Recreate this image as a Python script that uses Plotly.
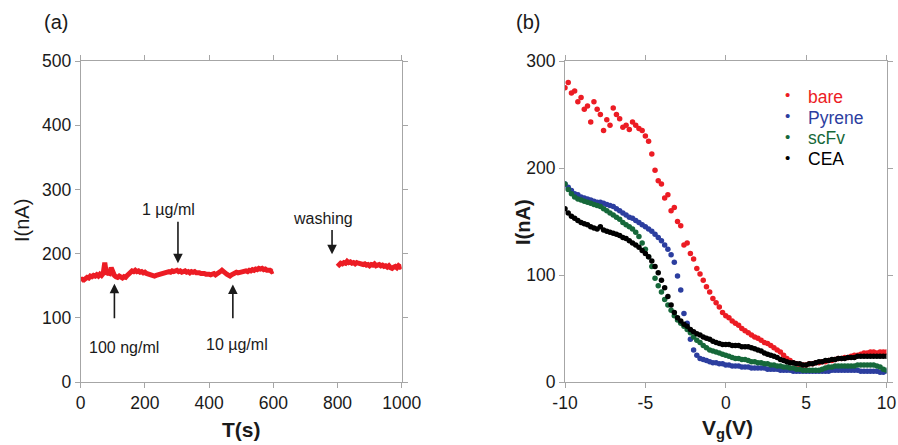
import numpy as np
import plotly.graph_objects as go

# ---- panel (a): current vs time ----
t_seg1 = np.arange(0, 601, 5)
i_seg1 = [158, 160, 159, 161, 163, 162, 165, 164, 166, 165,
          167, 165, 168, 166, 169, 186, 168, 170, 169, 178,
          170, 166, 164, 163, 165, 163, 162, 164, 163, 166,
          168, 171, 173, 172, 174, 172, 173, 171, 172, 170,
          171, 169, 168, 167, 168, 166, 165, 166, 167, 168,
          169, 170, 171, 170, 171, 172, 171, 173, 172, 173,
          174, 172, 173, 171, 172, 173, 171, 172, 170, 172,
          171, 172, 170, 171, 170, 169, 170, 169, 168, 169,
          168, 167, 168, 169, 167, 168, 170, 172, 174, 173,
          170, 168, 166, 165, 167, 169, 170, 171, 170, 171,
          172, 171, 172, 173, 172, 174, 173, 175, 174, 176,
          175, 177, 176, 177, 175, 176, 174, 175, 174, 172,
          173]
t_seg2 = np.arange(800, 1001, 5)
i_seg2 = [180, 183, 185, 184, 186, 185, 188, 186, 187, 185,
          186, 184, 186, 185, 184, 185, 183, 184, 182, 183,
          181, 183, 182, 184, 181, 182, 183, 181, 182, 180,
          181, 179, 181, 178, 177, 179, 180, 178, 181, 179,
          180]

# annotations: (label, text x, text y, arrow tail y, arrow head x, arrow head y)
notes = [
    ("1 µg/ml", 275, 269, 252, 303, 185),
    ("washing", 754, 255, 239, 783, 199),
    ("100 ng/ml", 135, 54, 97, 105, 153),
    ("10 µg/ml", 488, 59, 97, 474, 152),
]

# ---- panel (b): transfer curves ----
vg = np.linspace(-10, 10, 101)
vg_ticks = [-10, -5, 0, 5, 10]
vg_labels = ["-10", "-5", "0", "5", "10"]
bare = [275, 280, 270, 272, 262, 266, 255, 258, 243, 262,
        255, 250, 235, 245, 240, 256, 250, 246, 238, 240,
        236, 243, 240, 237, 235, 230, 225, 213, 198, 188,
        185, 172, 175, 160, 163, 150, 146, 128, 130, 120,
        115, 106, 101, 95, 89, 84, 78, 74, 70, 65,
        62, 60, 57, 55, 53, 50, 48, 46, 44, 42,
        41, 39, 37, 36, 34, 32, 30, 28, 25, 22,
        20, 18, 17, 16, 16, 16, 17, 17, 18, 18,
        19, 19, 20, 20, 21, 22, 22, 23, 23, 24,
        25, 25, 26, 27, 27, 28, 28, 27, 28, 28,
        28]
pyrene = [185, 182, 179, 176, 175, 173, 172, 171, 170, 169,
          168, 168, 167, 166, 165, 164, 162, 160, 158, 156,
          154, 153, 151, 149, 147, 145, 143, 141, 138, 135,
          132, 128, 124, 119, 112, 99, 86, 64, 55, 40,
          30, 25, 22, 21, 20, 19, 18, 18, 17, 17,
          16, 16, 15, 15, 15, 14, 14, 14, 13, 13,
          13, 13, 13, 12, 12, 12, 12, 11, 11, 11,
          11, 10, 10, 10, 10, 10, 10, 10, 10, 10,
          10, 10, 10, 11, 11, 11, 11, 11, 11, 11,
          11, 11, 10, 10, 10, 10, 10, 10, 9, 9,
          10]
scfv = [185, 180, 176, 173, 171, 170, 169, 168, 167, 166,
        165, 164, 162, 160, 158, 156, 154, 152, 149, 147,
        145, 143, 140, 136, 130, 124, 117, 108, 97, 90,
        84, 77, 72, 67, 62, 58, 55, 52, 49, 46,
        42, 39, 37, 34, 32, 30, 29, 28, 27, 26,
        25, 24, 23, 22, 22, 21, 21, 20, 19, 19,
        18, 18, 17, 17, 16, 16, 15, 15, 14, 14,
        13, 13, 12, 12, 11, 11, 11, 11, 11, 11,
        12, 13, 14, 14, 15, 15, 15, 15, 15, 15,
        15, 16, 16, 16, 16, 16, 16, 15, 14, 12,
        11]
cea = [162, 158, 155, 153, 151, 149, 148, 147, 145, 144,
       143, 145, 142, 141, 140, 139, 138, 137, 135, 134,
       132, 130, 128, 126, 123, 120, 117, 113, 108, 102,
       95, 88, 80, 72, 65, 60, 57, 54, 52, 49,
       47, 45, 44, 42, 41, 40, 38, 37, 36, 35,
       35, 35, 34, 34, 34, 33, 33, 33, 32, 31,
       30, 29, 27, 26, 25, 24, 23, 21, 20, 19,
       18, 18, 17, 17, 16, 16, 17, 17, 18, 19,
       19, 20, 20, 21, 21, 22, 22, 22, 23, 23,
       23, 24, 24, 24, 24, 24, 24, 24, 24, 24,
       24]

series = [("bare", bare, "#ec1c24"), ("Pyrene", pyrene, "#2c3e9f"),
          ("scFv", scfv, "#16683a"), ("CEA", cea, "#000000")]

FONT = "Liberation Sans, Arial, sans-serif"
INK = "#1a1a1a"
W, H = 898, 445


def px(x, y):
    # pixel position -> paper coords
    return x / W, 1 - y / H


fig = go.Figure()

for t, i in [(t_seg1, i_seg1), (t_seg2, i_seg2)]:
    fig.add_trace(go.Scatter(x=t, y=i, mode="lines", line=dict(color="#ec1c24", width=5),
                             showlegend=False, xaxis="x", yaxis="y"))

for name, vals, col in series:
    fig.add_trace(go.Scatter(
        x=vg, y=vals, mode="markers",
        marker=dict(color=col, size=5.5),
        name=name, showlegend=False,
        xaxis="x2", yaxis="y2",
    ))

axis_style = dict(
    showline=True, linecolor="#a6a6a6", linewidth=1, mirror="ticks",
    ticks="outside", ticklen=5, tickcolor="#a6a6a6",
    showgrid=False, zeroline=False, automargin=False,
    tickfont=dict(family=FONT, size=17.5, color=INK),
)

fig.update_layout(
    width=W, height=H,
    margin=dict(l=0, r=0, t=0, b=0),
    paper_bgcolor="white", plot_bgcolor="white",
    font=dict(family=FONT, color=INK),
    showlegend=False,
    xaxis=dict(axis_style, domain=[80.7 / W, 401.7 / W], range=[0, 1000], dtick=200, anchor="y"),
    yaxis=dict(axis_style, domain=[1 - 382 / H, 1 - 61 / H], range=[0, 500], dtick=100, anchor="x"),
    xaxis2=dict(axis_style, domain=[565 / W, 886.5 / W], range=[-10, 10],
                tickvals=vg_ticks, ticktext=vg_labels, anchor="y2"),
    yaxis2=dict(axis_style, domain=[1 - 382 / H, 1 - 61 / H], range=[0, 300], dtick=100, anchor="x2"),
)


def paper_text(x, y, text, size, angle=0, color=INK, xanchor="center"):
    a, b = px(x, y)
    fig.add_annotation(x=a, y=b, xref="paper", yref="paper", text=text, showarrow=False,
                       textangle=angle, xanchor=xanchor, yanchor="middle",
                       font=dict(family=FONT, size=size, color=color))


# axis titles
paper_text(241, 429, "<b>T(s)</b>", 21)
paper_text(22, 221, "I(nA)", 20, angle=-90)
paper_text(727, 429, "<b>V<sub>g</sub>(V)</b>", 21)
paper_text(523, 222, "<b>I(nA)</b>", 20, angle=-90)

# panel labels
paper_text(56, 22, "(a)", 20)
paper_text(528, 22, "(b)", 20)

# legend of panel (b)
for k, (name, vals, col) in enumerate(series):
    yy = 97 + k * 20.7
    paper_text(787, yy - 2, "•", 15, color=col)
    paper_text(806, yy, name, 17.5, color=col, xanchor="left")

# concentration markers in panel (a)
for label, tx, ty, tail_y, hx, hy in notes:
    fig.add_annotation(x=tx, y=ty, xref="x", yref="y", text=label, showarrow=False,
                       font=dict(family=FONT, size=16, color=INK))
    fig.add_annotation(x=hx, y=hy, ax=hx, ay=tail_y, xref="x", yref="y", axref="x", ayref="y",
                       text="", showarrow=True, arrowhead=2, arrowsize=1.2, arrowwidth=1.6,
                       arrowcolor=INK)

# drop the default page margin so the figure sits at the window corner
fig.write_html("out.html", config={"displayModeBar": False},
               post_script="document.body.style.margin='0';")
